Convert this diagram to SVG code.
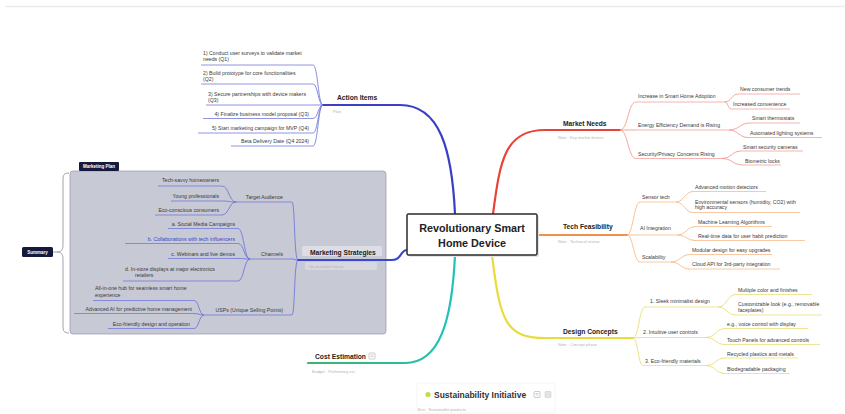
<svg xmlns="http://www.w3.org/2000/svg" width="845" height="414" viewBox="0 0 845 414">
<style>
text{font-family:"Liberation Sans",Arial,sans-serif}
.c{font-size:5.2px;fill:#3a3a3a}
.cl{font-size:5.2px;fill:#3a46d2}
.l{font-size:6.7px;font-weight:bold;fill:#222}
.s{font-size:4px;fill:#b3b3b3}
.tag{font-size:4.5px;fill:#fff;font-weight:bold}
.u{fill:none;stroke-width:.8}
.ub{stroke:#7478dc}
.ur{stroke:#f2a19b}
.uo{stroke:#f6bd8c}
.uy{stroke:#ebe07a}
.k{fill:none;stroke-width:.8}
.m{fill:none;stroke-width:2.2;stroke-linecap:round}
</style>
<defs>
<linearGradient id="teal" gradientUnits="userSpaceOnUse" x1="308" y1="0" x2="455" y2="0">
<stop offset="0" stop-color="#3cb56a"/>
<stop offset="1" stop-color="#1fc2b8"/>
</linearGradient>
<g id="note"><rect x="0" y="0" width="6" height="6" rx="1" fill="none" stroke="#b5b5b5" stroke-width=".7"/><path d="M1.5,2H4.5M1.5,3.5H4.5" stroke="#b5b5b5" stroke-width=".6"/></g>
</defs>
<rect width="845" height="414" fill="#fff"/>
<line x1="5" y1="6.5" x2="845" y2="6.5" stroke="#ececec" stroke-width="1.5"/>

<!-- summary boundary -->
<g id="boundary-marketing">
<rect x="70" y="171" width="316" height="163" rx="3" fill="#c7c9d5" stroke="#9597a8" stroke-width=".7"/>
<rect x="79" y="162" width="40" height="9" rx="1" fill="#151a3d"/>
<text class="tag" x="99" y="168.2" text-anchor="middle">Marketing Plan</text>
</g>
<g id="summary">
<path d="M69,173 C64,173 63,175 63,180 L63,245 C63,250 61,252 57,252 C61,252 63,254 63,259 L63,326 C63,331 64,333 69,333 M57,252 L53,252" fill="none" stroke="#8a8a95" stroke-width=".8"/>
<rect x="22" y="247" width="31" height="10" rx="1.5" fill="#151a3d"/>
<text class="tag" x="37.5" y="253.6" text-anchor="middle">Summary</text>
</g>

<g id="connectors">
<!-- main branches -->
<path class="m" stroke="#3b3fc6" d="M455,214 C452,150 440,105 400,105 L323,105"/>
<path class="m" stroke="#3b47cc" d="M407,250 C400,250 402,260 392,260 L298,260"/>
<path class="m" stroke="#e8433a" d="M493,214 C500,160 505,130 545,130 L620,130"/>
<path class="m" stroke="#f2924a" d="M537,235 L627,235"/>
<path class="m" stroke="#e8dc3c" d="M492,255 C500,320 505,338 545,338 L633,338"/>
<path class="m" stroke="url(#teal)" d="M455,255 C452,320 440,363 405,363 L308,363"/>
<!-- action items -->
<g class="k" stroke="#6a6fd8">
<path d="M323,105 C318,105 318,65 313,65"/>
<path d="M323,105 C318,105 318,84 313,84"/>
<path d="M323,105 L313,105"/>
<path d="M323,105 C318,105 318,118.5 313,118.5"/>
<path d="M323,105 C318,105 318,133 313,133"/>
<path d="M323,105 C318,105 318,146 313,146"/>
<!-- marketing -->
<path d="M298,260 C294,260 295,202 292,202"/>
<path d="M298,260 C295,260 295,259 292,259"/>
<path d="M298,260 C294,260 295,315 292,315"/>
<path d="M236,202 C229,202 229,186 222,186"/>
<path d="M236,202 C229,202 229,201 222,201"/>
<path d="M236,202 C229,202 229,215 222,215"/>
<path d="M250,259 C244,259 244,228.5 238,228.5"/>
<path d="M250,259 C244,259 244,243.5 238,243.5"/>
<path d="M250,259 C244,259 244,258.5 238,258.5"/>
<path d="M250,259 C244,259 244,281 238,281"/>
<path d="M204,315 C199,315 199,300.5 194,300.5"/>
<path d="M204,315 C199,315 199,313.5 194,313.5"/>
<path d="M204,315 C199,315 199,328.5 194,328.5"/>
</g>
<g class="k" stroke="#ee8f88">
<path d="M620,130 C628,130 628,102 636,102"/>
<path d="M620,130 L636,130"/>
<path d="M620,130 C628,130 628,158.5 636,158.5"/>
<path d="M725,102 C731,102 732,94 738,94"/>
<path d="M725,102 C728,102 728,109 731,109"/>
<path d="M729,130 C739,130 740,123 750,123"/>
<path d="M729,130 C738,130 739,137.5 748,137.5"/>
<path d="M722,158.5 C731,158.5 732,151 741,151"/>
<path d="M722,158.5 C732,158.5 733,165 743,165"/>
</g>
<g class="k" stroke="#f4b27a">
<path d="M627,235 C633,235 634,202 640,202"/>
<path d="M627,235 L638,235"/>
<path d="M627,235 C633,235 634,262 640,262"/>
<path d="M676,202 C684,202 685,191.5 693,191.5"/>
<path d="M676,202 C684,202 685,212.5 693,212.5"/>
<path d="M677,235 C686,235 687,226.5 696,226.5"/>
<path d="M677,235 C686,235 687,240.5 696,240.5"/>
<path d="M671,262 C680,262 681,254.5 690,254.5"/>
<path d="M671,262 C680,262 681,269 690,269"/>
</g>
<g class="k" stroke="#e6da62">
<path d="M633,338 C639,338 639,307 645,307"/>
<path d="M633,338 C637,338 637,337.5 641,337.5"/>
<path d="M633,338 C638,338 638,365.5 643,365.5"/>
<path d="M718,307 C727,307 727,294.5 736,294.5"/>
<path d="M718,307 C727,307 727,315 736,315"/>
<path d="M706,337.5 C715,337.5 716,328.5 725,328.5"/>
<path d="M706,337.5 C715,337.5 716,344.5 725,344.5"/>
<path d="M706,365.5 C715,365.5 716,358 725,358"/>
<path d="M706,365.5 C715,365.5 716,373.5 725,373.5"/>
</g>
</g>

<!-- central topic -->
<g id="central">
<rect x="409" y="216" width="130" height="41" rx="1.5" fill="#e4e4e4"/>
<rect x="407" y="214" width="130" height="41" rx="1.5" fill="#fff" stroke="#2b2b2b" stroke-width="1.5"/>
<text x="472" y="232" text-anchor="middle" font-size="10.8" font-weight="bold" fill="#222">Revolutionary Smart</text>
<text x="472" y="247" text-anchor="middle" font-size="10.8" font-weight="bold" fill="#222">Home Device</text>
</g>

<!-- Action Items -->
<g id="action-items">
<text class="l" x="337" y="99.5">Action Items</text>
<text class="s" x="333" y="112.5">Plan</text>
</g>
<g id="ai-1"><text class="c" x="203" y="55">1) Conduct user surveys to validate market</text><text class="c" x="203" y="61">needs (Q1)</text><path class="u ub" d="M201,65H313"/></g>
<g id="ai-2"><text class="c" x="203" y="75">2) Build prototype for core functionalities</text><text class="c" x="203" y="81">(Q2)</text><path class="u ub" d="M201,84H313"/></g>
<g id="ai-3"><text class="c" x="208" y="95.5">3) Secure partnerships with device makers</text><text class="c" x="208" y="101.5">(Q3)</text><path class="u ub" d="M206,105H313"/></g>
<g id="ai-4"><text class="c" x="309" y="116" text-anchor="end">4) Finalize business model proposal (Q3)</text><path class="u ub" d="M203,118.5H313"/></g>
<g id="ai-5"><text class="c" x="309" y="130" text-anchor="end">5) Start marketing campaign for MVP (Q4)</text><path class="u ub" d="M198,133H313"/></g>
<g id="ai-6"><text class="c" x="309" y="142.5" text-anchor="end">Beta Delivery Date (Q4 2024)</text><path class="u ub" d="M231,146H313"/></g>

<!-- Marketing Strategies -->
<g id="marketing-strategies">
<rect x="302" y="246" width="80" height="10" rx="1.5" fill="#dcdde5"/>
<text class="l" x="310" y="254.5">Marketing Strategies</text>
<rect x="305" y="262" width="72" height="8" rx="1.5" fill="#d6d7df"/>
<text class="s" x="309" y="267.5">Go-to-market focus</text>
</g>
<g id="ms-target"><text class="c" x="283" y="198.5" text-anchor="end">Target Audience</text><path class="u ub" d="M236,202H292"/></g>
<g id="ta-1"><text class="c" x="219" y="182" text-anchor="end">Tech-savvy homeowners</text><path class="u ub" d="M158,186H222"/></g>
<g id="ta-2"><text class="c" x="219" y="197.5" text-anchor="end">Young professionals</text><path class="u ub" d="M171,201H222"/></g>
<g id="ta-3"><text class="c" x="219" y="211.5" text-anchor="end">Eco-conscious consumers</text><path class="u ub" d="M155,215H222"/></g>
<g id="ms-channels"><text class="c" x="283" y="255.5" text-anchor="end">Channels</text><path class="u ub" d="M250,259H292"/></g>
<g id="ch-a"><text class="c" x="235" y="226" text-anchor="end">a.  Social Media Campaigns</text><path class="u ub" d="M168,228.5H238"/></g>
<g id="ch-b"><text class="cl" x="235" y="241" text-anchor="end">b.  Collaborations with tech influencers</text><path class="u ub" d="M125,243.5H238"/></g>
<g id="ch-c"><text class="c" x="235" y="256" text-anchor="end">c.  Webinars and live demos</text><path class="u ub" d="M168,258.5H238"/></g>
<g id="ch-d"><text class="c" x="125" y="271">d.  In-store displays at major electronics</text><text class="c" x="135" y="277">retailers</text><path class="u ub" d="M123,281H238"/></g>
<g id="ms-usps"><text class="c" x="283" y="312" text-anchor="end">USPs (Unique Selling Points)</text><path class="u ub" d="M204,315H292"/></g>
<g id="usp-1"><text class="c" x="95" y="290">All-in-one hub for seamless smart home</text><text class="c" x="95" y="296.5">experience</text><path class="u ub" d="M93,300.5H194"/></g>
<g id="usp-2"><text class="c" x="192" y="311" text-anchor="end">Advanced AI for predictive home management</text><path class="u ub" d="M74,313.5H194"/></g>
<g id="usp-3"><text class="c" x="190" y="326" text-anchor="end">Eco-friendly design and operation</text><path class="u ub" d="M108,328.5H194"/></g>

<!-- Market Needs -->
<g id="market-needs">
<text class="l" x="563" y="125.5">Market Needs</text>
<text class="s" x="558" y="139">Note · Key market drivers</text>
</g>
<g id="mn-1"><text class="c" x="638" y="98">Increase in Smart Home Adoption</text><path class="u ur" d="M636,102H725"/></g>
<g id="mn-1a"><text class="c" x="740" y="91">New consumer trends</text><path class="u ur" d="M738,94H800"/></g>
<g id="mn-1b"><text class="c" x="733" y="106">Increased convenience</text><path class="u ur" d="M731,109H790"/></g>
<g id="mn-2"><text class="c" x="638" y="127">Energy Efficiency Demand is Rising</text><path class="u ur" d="M636,130H729"/></g>
<g id="mn-2a"><text class="c" x="752" y="120">Smart thermostats</text><path class="u ur" d="M750,123H800"/></g>
<g id="mn-2b"><text class="c" x="750" y="135">Automated lighting systems</text><path class="u ur" d="M748,137.5H822"/></g>
<g id="mn-3"><text class="c" x="638" y="156">Security/Privacy Concerns Rising</text><path class="u ur" d="M636,158.5H722"/></g>
<g id="mn-3a"><text class="c" x="743" y="149">Smart security cameras</text><path class="u ur" d="M741,151H803"/></g>
<g id="mn-3b"><text class="c" x="745" y="163">Biometric locks</text><path class="u ur" d="M743,165H781"/></g>

<!-- Tech Feasibility -->
<g id="tech-feasibility">
<text class="l" x="563" y="228.5">Tech Feasibility</text>
<text class="s" x="558" y="243">Note · Technical review</text>
</g>
<g id="tf-1"><text class="c" x="642" y="199">Sensor tech</text><path class="u uo" d="M640,202H676"/></g>
<g id="tf-1a"><text class="c" x="695" y="189">Advanced motion detectors</text><path class="u uo" d="M693,191.5H766"/></g>
<g id="tf-1b"><text class="c" x="695" y="203.5">Environmental sensors (humidity, CO2) with</text><text class="c" x="695" y="209.2">high accuracy</text><path class="u uo" d="M693,212.5H800"/></g>
<g id="tf-2"><text class="c" x="640" y="230">AI Integration</text><path class="u uo" d="M638,235H677"/></g>
<g id="tf-2a"><text class="c" x="698" y="224">Machine Learning Algorithms</text><path class="u uo" d="M696,226.5H772"/></g>
<g id="tf-2b"><text class="c" x="698" y="238">Real-time data for user habit prediction</text><path class="u uo" d="M696,240.5H805"/></g>
<g id="tf-3"><text class="c" x="642" y="259">Scalability</text><path class="u uo" d="M640,262H671"/></g>
<g id="tf-3a"><text class="c" x="692" y="252">Modular design for easy upgrades</text><path class="u uo" d="M690,254.5H772"/></g>
<g id="tf-3b"><text class="c" x="692" y="266">Cloud API for 3rd-party integration</text><path class="u uo" d="M690,269H780"/></g>

<!-- Design Concepts -->
<g id="design-concepts">
<text class="l" x="563" y="333.5">Design Concepts</text>
<text class="s" x="558" y="346">Note · Concept phase</text>
</g>
<g id="dc-1"><text class="c" x="650" y="303">1. Sleek minimalist design</text><path class="u uy" d="M645,307H718"/></g>
<g id="dc-1a"><text class="c" x="738" y="292">Multiple color and finishes</text><path class="u uy" d="M736,294.5H812"/></g>
<g id="dc-1b"><text class="c" x="738" y="305.5">Customizable look (e.g., removable</text><text class="c" x="738" y="311.8">faceplates)</text><path class="u uy" d="M736,315H822"/></g>
<g id="dc-2"><text class="c" x="643" y="334">2. Intuitive user controls</text><path class="u uy" d="M641,337.5H706"/></g>
<g id="dc-2a"><text class="c" x="727" y="326">e.g., voice control with display</text><path class="u uy" d="M725,328.5H808"/></g>
<g id="dc-2b"><text class="c" x="727" y="342">Touch Panels for advanced controls</text><path class="u uy" d="M725,344.5H820"/></g>
<g id="dc-3"><text class="c" x="645" y="363">3. Eco-friendly materials</text><path class="u uy" d="M643,365.5H706"/></g>
<g id="dc-3a"><text class="c" x="727" y="356">Recycled plastics and metals</text><path class="u uy" d="M725,358H798"/></g>
<g id="dc-3b"><text class="c" x="727" y="371">Biodegradable packaging</text><path class="u uy" d="M725,373.5H790"/></g>

<!-- Cost Estimation -->
<g id="cost-estimation">
<text class="l" x="315" y="358.5">Cost Estimation</text>
<use href="#note" x="369" y="353"/>
<text class="s" x="312" y="373">Budget · Preliminary est.</text>
</g>

<!-- Sustainability Initiative (floating) -->
<g id="sustainability">
<rect x="417" y="383" width="138" height="30" rx="2" fill="none" stroke="#f1f1f1" stroke-width=".8"/>
<circle cx="428" cy="394.5" r="2.6" fill="#c9d94a"/>
<text x="434" y="397.5" font-size="8.5" font-weight="bold" fill="#333">Sustainability Initiative</text>
<use href="#note" x="534" y="391.5"/>
<rect x="545" y="391.5" width="6" height="6" rx="1" fill="#e4e4e4" stroke="#c4c4c4" stroke-width=".5"/>
<text class="s" x="418" y="410.5">Eco · Sustainable products</text>
</g>
</svg>
